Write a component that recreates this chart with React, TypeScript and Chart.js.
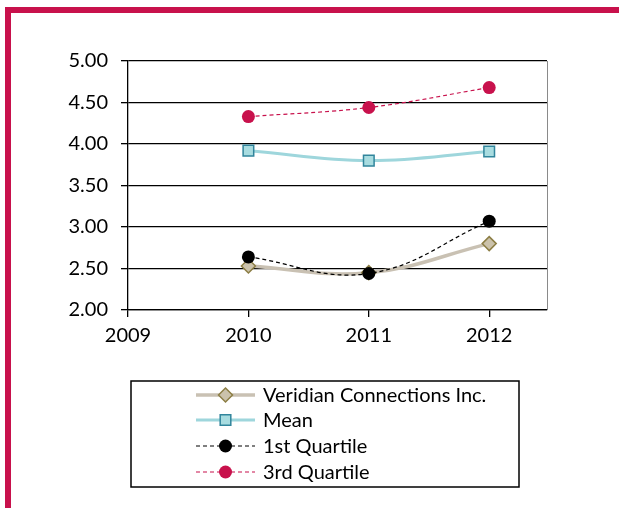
import React, { useEffect, useRef } from "react";
import { Chart, registerables } from "chart.js";

Chart.register(...registerables);

const years = [2010, 2011, 2012];
const veridian = [2.53, 2.45, 2.8];
const mean = [3.92, 3.8, 3.91];
const q1 = [2.64, 2.44, 3.07];
const q3 = [4.33, 4.44, 4.68];
const seriesNames = ["Veridian Connections Inc.", "Mean", "1st Quartile", "3rd Quartile"];
const xTicks = [2009, 2010, 2011, 2012];

const FONT = "Lato";
const CRIMSON = "#C8114C";

const toPts = (vals: number[]) => vals.map((v, i) => ({ x: years[i], y: v }));

const frame = {
  id: "frame",
  beforeDraw(chart: any) {
    const ctx = chart.ctx;
    ctx.save();
    ctx.fillStyle = "#ffffff";
    ctx.fillRect(0, 0, chart.width, chart.height);
    ctx.fillStyle = CRIMSON;
    ctx.fillRect(5, 7, chart.width - 5, 6);
    ctx.fillRect(5, 7, 6, chart.height - 7);
    ctx.restore();
  },
  beforeDatasetsDraw(chart: any) {
    const { ctx, chartArea } = chart;
    ctx.save();
    ctx.strokeStyle = "#8a8a8a";
    ctx.lineWidth = 1;
    ctx.beginPath();
    ctx.moveTo(chartArea.right + 0.5, chartArea.top);
    ctx.lineTo(chartArea.right + 0.5, chartArea.bottom);
    ctx.stroke();
    ctx.restore();
  },
  afterDraw(chart: any) {
    const ctx = chart.ctx;
    ctx.save();
    ctx.strokeStyle = "#000";
    ctx.lineWidth = 1.5;
    ctx.strokeRect(131, 381, 388, 106);
    const rows = [395, 420, 446, 472];
    chart.data.datasets.forEach((ds: any, i: number) => {
      const y = rows[i];
      ctx.save();
      ctx.strokeStyle = ds.borderColor;
      ctx.lineWidth = ds.borderWidth;
      ctx.setLineDash(ds.borderDash || []);
      ctx.beginPath();
      ctx.moveTo(196, y);
      ctx.lineTo(255, y);
      ctx.stroke();
      ctx.restore();
      const cx = 225.5;
      const r = ds.pointRadius;
      ctx.save();
      ctx.fillStyle = ds.pointBackgroundColor;
      ctx.strokeStyle = ds.pointBorderColor;
      ctx.lineWidth = ds.pointBorderWidth;
      ctx.beginPath();
      if (ds.pointStyle === "circle") {
        ctx.arc(cx, y, r, 0, Math.PI * 2);
      } else if (ds.pointStyle === "rect") {
        const s = Math.SQRT1_2 * r;
        ctx.rect(cx - s, y - s, 2 * s, 2 * s);
      } else {
        ctx.moveTo(cx - r, y);
        ctx.lineTo(cx, y - r);
        ctx.lineTo(cx + r, y);
        ctx.lineTo(cx, y + r);
        ctx.closePath();
      }
      ctx.fill();
      if (ds.pointBorderWidth) ctx.stroke();
      ctx.restore();
      ctx.fillStyle = "#000";
      ctx.font = `20px ${FONT}`;
      ctx.textBaseline = "middle";
      ctx.textAlign = "left";
      ctx.fillText(seriesNames[i], 263, y + 1);
    });
    ctx.restore();
  },
};

export default function App() {
  const ref = useRef<HTMLCanvasElement>(null);
  useEffect(() => {
    const chart = new Chart(ref.current as HTMLCanvasElement, {
      type: "line",
      data: {
        datasets: [
          {
            label: seriesNames[0],
            data: toPts(veridian),
            borderColor: "#C9C1B3",
            borderWidth: 3.5,
            tension: 0.4,
            pointStyle: "rectRot",
            pointRadius: 7,
            pointBackgroundColor: "#CBC2AB",
            pointBorderColor: "#8C7E45",
            pointBorderWidth: 1.5,
            order: 4,
          },
          {
            label: seriesNames[1],
            data: toPts(mean),
            borderColor: "#9ED6DC",
            borderWidth: 3,
            tension: 0.4,
            pointStyle: "rect",
            pointRadius: 7.5,
            pointBackgroundColor: "#A8DCE0",
            pointBorderColor: "#31859C",
            pointBorderWidth: 1.5,
            order: 3,
          },
          {
            label: seriesNames[2],
            data: toPts(q1),
            borderColor: "#000000",
            borderWidth: 1.2,
            borderDash: [4, 3],
            tension: 0.4,
            pointStyle: "circle",
            pointRadius: 6.5,
            pointBackgroundColor: "#000000",
            pointBorderColor: "#000000",
            pointBorderWidth: 0,
            order: 2,
          },
          {
            label: seriesNames[3],
            data: toPts(q3),
            borderColor: CRIMSON,
            borderWidth: 1.2,
            borderDash: [4, 3],
            tension: 0.4,
            pointStyle: "circle",
            pointRadius: 6.5,
            pointBackgroundColor: CRIMSON,
            pointBorderColor: CRIMSON,
            pointBorderWidth: 0,
            order: 1,
          },
        ] as any,
      },
      options: {
        animation: false,
        responsive: false,
        layout: { padding: { top: 61, right: 72, left: 0, bottom: 0 } },
        plugins: { legend: { display: false }, tooltip: { enabled: false } },
        scales: {
          x: {
            type: "linear",
            min: 2009,
            max: 2012.48,
            afterBuildTicks: (s: any) => {
              s.ticks = xTicks.map((v) => ({ value: v }));
            },
            afterFit: (s: any) => {
              s.height = 198;
            },
            grid: { drawOnChartArea: false, drawTicks: true, tickLength: 7, color: "#000", lineWidth: 1.3 },
            border: { display: true, color: "#000", width: 1.3 },
            ticks: {
              color: "#000",
              font: { family: FONT, size: 20 },
              padding: 7,
              maxRotation: 0,
              callback: (v: any) => String(v),
            },
          },
          y: {
            type: "linear",
            min: 2,
            max: 5,
            afterFit: (s: any) => {
              s.width = 128;
            },
            grid: { color: "#000", lineWidth: 1.3, drawTicks: true, tickLength: 7 },
            border: { display: true, color: "#000", width: 1.3 },
            ticks: {
              stepSize: 0.5,
              color: "#000",
              font: { family: FONT, size: 20 },
              padding: 13,
              callback: (v: any) => Number(v).toFixed(2),
            },
          },
        },
      },
      plugins: [frame],
    });
    return () => chart.destroy();
  }, []);
  return (
    <div style={{ position: "fixed", left: 0, top: 0, width: 619, height: 508, background: "#fff" }}>
      <canvas ref={ref} width={619} height={508} style={{ display: "block" }} />
    </div>
  );
}
